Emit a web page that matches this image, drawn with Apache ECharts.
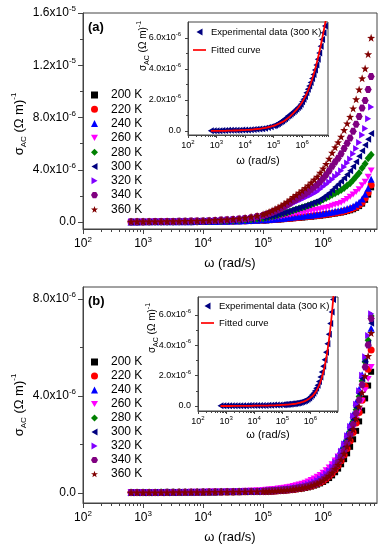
<!DOCTYPE html>
<html><head><meta charset="utf-8">
<script src="https://cdn.jsdelivr.net/npm/echarts@6/dist/echarts.min.js"></script>
<style>html,body{margin:0;padding:0;background:#fff}#c{width:382px;height:550px}</style>
</head><body><div id="c"></div><script>
// ---------------- data ----------------
const omega = [631,794,1000,1259,1585,1995,2512,3162,3981,5012,6310,7943,10000,12589,15849,19953,25119,31623,39811,50119,63096,79433,100000,
 112202,125893,141254,158489,177828,199526,223872,251189,281838,316228,
 354813,398107,446684,501187,562341,630957,707946,794328,891251,1000000,
 1122018,1258925,1412538,1584893,1778279,1995262,
 2238721,2511886,2818383,3162278,3548134,3981072,4466836,5011872,5623413,6309573];
const tempLabels = ['200 K','220 K','240 K','260 K','280 K','300 K','320 K','340 K','360 K'];
// panel (a), sigma_AC in 1e-6 (Ohm m)^-1
const sigA200 = [0.01,0.01,0.01,0.01,0.01,0.02,0.02,0.02,0.02,0.02,0.03,0.03,0.03,0.04,0.04,0.05,0.05,0.06,0.07,0.08,0.09,0.11,0.12,0.13,0.15,0.16,0.18,0.19,0.21,0.23,0.25,0.27,0.29,0.31,0.33,0.35,0.37,0.39,0.41,0.44,0.46,0.49,0.52,0.55,0.58,0.62,0.65,0.69,0.73,0.78,0.84,0.90,0.98,1.09,1.22,1.41,1.70,2.10,2.66];
const sigA220 = [0.01,0.01,0.01,0.02,0.02,0.02,0.02,0.02,0.02,0.03,0.03,0.03,0.04,0.04,0.05,0.05,0.06,0.07,0.08,0.09,0.10,0.12,0.14,0.15,0.17,0.18,0.20,0.22,0.24,0.26,0.28,0.30,0.32,0.34,0.36,0.38,0.40,0.43,0.45,0.48,0.50,0.53,0.56,0.59,0.62,0.66,0.70,0.74,0.78,0.83,0.89,0.96,1.05,1.16,1.30,1.50,1.82,2.24,2.83];
const sigA240 = [0.01,0.01,0.02,0.02,0.02,0.02,0.02,0.02,0.03,0.03,0.03,0.04,0.04,0.05,0.05,0.06,0.07,0.08,0.09,0.10,0.12,0.14,0.17,0.18,0.20,0.22,0.24,0.26,0.28,0.30,0.33,0.35,0.38,0.40,0.43,0.45,0.48,0.50,0.53,0.56,0.59,0.62,0.66,0.69,0.73,0.77,0.82,0.86,0.91,0.97,1.04,1.12,1.22,1.36,1.52,1.76,2.12,2.58,3.27];
const sigA260 = [0.01,0.02,0.02,0.02,0.02,0.02,0.03,0.03,0.03,0.03,0.04,0.04,0.05,0.05,0.06,0.07,0.08,0.09,0.11,0.13,0.15,0.19,0.23,0.25,0.28,0.32,0.36,0.39,0.43,0.48,0.52,0.57,0.61,0.65,0.70,0.74,0.78,0.82,0.86,0.90,0.94,0.99,1.05,1.09,1.16,1.25,1.32,1.39,1.47,1.62,1.77,1.93,2.11,2.30,2.52,2.81,3.09,3.47,3.95];
const sigA280 = [0.02,0.02,0.02,0.02,0.03,0.03,0.03,0.03,0.04,0.04,0.05,0.05,0.06,0.07,0.08,0.09,0.10,0.12,0.14,0.17,0.20,0.25,0.30,0.35,0.39,0.44,0.49,0.55,0.61,0.67,0.74,0.81,0.89,0.97,1.04,1.11,1.18,1.26,1.34,1.42,1.50,1.60,1.72,1.85,1.96,2.09,2.20,2.32,2.45,2.60,2.79,2.98,3.22,3.48,3.76,4.13,4.47,4.88,5.15];
const sigA300 = [0.02,0.02,0.02,0.02,0.03,0.03,0.04,0.04,0.04,0.05,0.05,0.06,0.06,0.07,0.08,0.10,0.11,0.13,0.15,0.18,0.22,0.27,0.33,0.37,0.42,0.47,0.53,0.59,0.65,0.72,0.79,0.87,0.96,1.02,1.10,1.17,1.25,1.33,1.42,1.51,1.60,1.73,1.89,2.05,2.23,2.46,2.69,2.90,3.13,3.38,3.64,3.93,4.25,4.62,5.03,5.46,5.90,6.33,6.77];
const sigA320 = [0.02,0.03,0.03,0.03,0.04,0.04,0.05,0.05,0.05,0.06,0.07,0.08,0.08,0.10,0.11,0.13,0.15,0.18,0.21,0.25,0.30,0.37,0.45,0.51,0.59,0.66,0.75,0.84,0.94,1.05,1.16,1.29,1.44,1.54,1.65,1.75,1.86,1.97,2.08,2.21,2.32,2.51,2.71,2.87,3.06,3.26,3.49,3.66,3.92,4.22,4.53,4.83,5.22,5.64,6.09,6.66,7.17,7.90,8.81];
const sigA340 = [0.03,0.03,0.03,0.03,0.04,0.04,0.05,0.05,0.06,0.07,0.08,0.09,0.09,0.11,0.13,0.15,0.17,0.20,0.24,0.28,0.34,0.42,0.51,0.58,0.66,0.75,0.85,0.95,1.06,1.19,1.32,1.46,1.63,1.75,1.90,2.03,2.17,2.33,2.51,2.69,2.86,3.10,3.36,3.63,3.93,4.28,4.60,4.89,5.22,5.63,6.04,6.44,6.96,7.49,8.07,8.73,9.31,10.15,11.14];
const sigA360 = [0.03,0.04,0.04,0.04,0.05,0.05,0.06,0.06,0.07,0.08,0.09,0.10,0.11,0.13,0.15,0.18,0.20,0.24,0.28,0.33,0.40,0.49,0.60,0.68,0.78,0.88,1.00,1.12,1.25,1.40,1.55,1.72,1.92,2.07,2.25,2.42,2.60,2.80,3.02,3.25,3.47,3.77,4.10,4.45,4.85,5.30,5.72,6.10,6.53,7.04,7.55,8.05,8.70,9.40,10.15,11.00,11.75,12.85,14.10];
// panel (b)
const sigB200 = [0.01,0.01,0.01,0.01,0.01,0.01,0.01,0.01,0.01,0.02,0.02,0.02,0.02,0.02,0.02,0.03,0.03,0.03,0.03,0.04,0.04,0.05,0.05,0.06,0.06,0.07,0.08,0.08,0.09,0.10,0.11,0.12,0.13,0.15,0.16,0.18,0.20,0.23,0.26,0.30,0.34,0.39,0.45,0.52,0.61,0.72,0.85,1.00,1.18,1.39,1.63,1.90,2.21,2.56,2.95,3.40,3.90,4.43,5.00];
const sigB220 = [0.01,0.01,0.01,0.01,0.01,0.01,0.01,0.01,0.02,0.02,0.02,0.02,0.02,0.02,0.03,0.03,0.03,0.03,0.04,0.04,0.05,0.05,0.06,0.06,0.07,0.07,0.08,0.09,0.10,0.11,0.12,0.13,0.14,0.16,0.18,0.20,0.22,0.25,0.28,0.32,0.37,0.43,0.49,0.58,0.68,0.80,0.95,1.12,1.32,1.56,1.83,2.14,2.49,2.88,3.32,3.82,4.40,5.10,5.90];
const sigB240 = [0.01,0.01,0.02,0.02,0.02,0.02,0.02,0.02,0.03,0.03,0.03,0.03,0.04,0.04,0.04,0.05,0.05,0.06,0.06,0.07,0.07,0.08,0.09,0.10,0.11,0.12,0.13,0.14,0.15,0.16,0.18,0.20,0.22,0.24,0.27,0.30,0.34,0.38,0.43,0.49,0.56,0.64,0.73,0.85,0.99,1.15,1.34,1.56,1.81,2.10,2.44,2.82,3.25,3.74,4.28,4.88,5.55,6.20,6.80];
const sigB260 = [0.02,0.02,0.02,0.02,0.02,0.03,0.03,0.03,0.03,0.03,0.04,0.04,0.04,0.05,0.05,0.06,0.06,0.07,0.08,0.09,0.10,0.11,0.12,0.13,0.14,0.15,0.16,0.18,0.19,0.21,0.23,0.25,0.28,0.31,0.34,0.38,0.42,0.47,0.53,0.59,0.66,0.74,0.83,0.93,1.05,1.18,1.33,1.50,1.69,1.90,2.13,2.40,2.70,3.03,3.40,3.80,4.24,4.70,5.20];
const sigB280 = [0.01,0.01,0.01,0.01,0.01,0.02,0.02,0.02,0.02,0.02,0.02,0.03,0.03,0.03,0.03,0.04,0.04,0.04,0.05,0.05,0.06,0.06,0.07,0.08,0.08,0.09,0.10,0.11,0.12,0.13,0.14,0.15,0.17,0.19,0.21,0.23,0.26,0.29,0.33,0.38,0.43,0.50,0.58,0.68,0.80,0.95,1.12,1.32,1.56,1.84,2.16,2.53,2.95,3.43,3.98,4.62,5.40,6.30,7.30];
const sigB300 = [0.01,0.01,0.01,0.01,0.02,0.02,0.02,0.02,0.02,0.02,0.03,0.03,0.03,0.03,0.04,0.04,0.04,0.05,0.05,0.06,0.06,0.07,0.08,0.08,0.09,0.10,0.11,0.12,0.13,0.14,0.15,0.16,0.18,0.20,0.22,0.25,0.28,0.31,0.35,0.40,0.46,0.53,0.62,0.72,0.84,0.99,1.16,1.37,1.61,1.90,2.23,2.61,3.04,3.53,4.10,4.72,5.42,6.18,7.00];
const sigB320 = [0.01,0.01,0.01,0.02,0.02,0.02,0.02,0.02,0.02,0.03,0.03,0.03,0.03,0.04,0.04,0.04,0.05,0.05,0.06,0.06,0.07,0.07,0.08,0.09,0.10,0.11,0.12,0.13,0.14,0.15,0.16,0.18,0.20,0.22,0.25,0.28,0.31,0.35,0.40,0.45,0.51,0.59,0.68,0.79,0.92,1.08,1.26,1.47,1.72,2.02,2.36,2.74,3.17,3.66,4.22,4.86,5.62,6.50,7.40];
const sigB340 = [0.01,0.01,0.01,0.01,0.01,0.01,0.02,0.02,0.02,0.02,0.02,0.02,0.03,0.03,0.03,0.03,0.04,0.04,0.04,0.05,0.05,0.06,0.06,0.07,0.08,0.08,0.09,0.10,0.11,0.12,0.13,0.14,0.16,0.18,0.20,0.22,0.24,0.27,0.31,0.35,0.40,0.47,0.55,0.64,0.75,0.89,1.05,1.24,1.47,1.74,2.05,2.41,2.82,3.29,3.83,4.46,5.20,6.10,7.20];
const sigB360 = [0.01,0.01,0.01,0.01,0.01,0.01,0.01,0.02,0.02,0.02,0.02,0.02,0.02,0.03,0.03,0.03,0.03,0.04,0.04,0.04,0.05,0.05,0.06,0.06,0.07,0.08,0.08,0.09,0.10,0.11,0.12,0.13,0.15,0.17,0.18,0.20,0.23,0.25,0.29,0.33,0.38,0.44,0.51,0.60,0.70,0.83,0.98,1.16,1.37,1.62,1.91,2.24,2.62,3.06,3.56,4.14,4.82,5.65,6.60];
// fitted curves (insets)
const fitOmega = [631,794,1000,1259,1585,1995,2512,3162,3981,5012,6310,7943,10000,12589,15849,19953,25119,31623,39811,50119,63096,79433,100000,125893,158489,199526,251189,316228,398107,501187,630957,794328,1000000,1258925,1584893,1995262,2511886,3162278,3981072,5011872,6309573,7079458];
const fitA = [0.00,0.00,0.01,0.01,0.01,0.01,0.02,0.02,0.03,0.03,0.04,0.05,0.06,0.07,0.08,0.10,0.12,0.14,0.17,0.20,0.24,0.28,0.33,0.40,0.48,0.57,0.68,0.82,0.98,1.16,1.36,1.59,1.85,2.18,2.58,3.05,3.62,4.28,5.05,5.92,6.85,7.35];
const fitB = [0.00,0.00,0.00,0.00,0.00,0.01,0.01,0.01,0.01,0.01,0.01,0.01,0.02,0.02,0.02,0.02,0.03,0.03,0.04,0.04,0.05,0.06,0.07,0.08,0.09,0.11,0.13,0.16,0.20,0.25,0.32,0.42,0.55,0.72,0.97,1.33,1.85,2.60,3.60,5.00,6.90,8.20];
// ticks
const xTicks = [100,1000,10000,100000,1000000];
const xMinor = [200,300,400,500,600,700,800,900,2000,3000,4000,5000,6000,7000,8000,9000,20000,30000,40000,50000,60000,70000,80000,90000,200000,300000,400000,500000,600000,700000,800000,900000,2000000,3000000,4000000,5000000,6000000,7000000,8000000,9000000];
const yTicksA = [0,4e-6,8e-6,1.2e-5,1.6e-5], yMinorA = [2e-6,6e-6,1e-5,1.4e-5];
const yTicksB = [0,4e-6,8e-6], yMinorB = [2e-6,6e-6];
const yTicksIn = [0,2e-6,4e-6,6e-6], yMinorIn = [1e-6,3e-6,5e-6];

// ---------------- chart ----------------
const FONT = '"Liberation Sans", Arial, sans-serif';
const AX = '#444';
const chart = echarts.init(document.getElementById('c'));

function xLab(v){ const e = Math.round(Math.log10(v)); return '{b|10}{s|' + e + '}'; }
function yLab(v){
  if (Math.abs(v) < 1e-12) return '{b|0.0}';
  const e = Math.floor(Math.log10(Math.abs(v)) + 1e-9);
  const m = v / Math.pow(10, e);
  return '{b|' + m.toFixed(1) + 'x10}{s|' + e + '}';
}
function rich(fs, fsS){
  return { b:{fontSize:fs, lineHeight:fs+4, fontFamily:FONT, color:'#000'},
           s:{fontSize:fsS, lineHeight:fsS-1, verticalAlign:'top', fontFamily:FONT, color:'#000'} };
}
function xAxes(gi, maxV, fs, fsS, margin, tl, ml, nfs, ngap){
  return [{
    gridIndex:gi, type:'log', logBase:10, min:100, max:maxV, position:'bottom',
    axisLine:{show:true, onZero:false, lineStyle:{color:AX, width:1}},
    axisTick:{show:true, length:tl, customValues:xTicks, lineStyle:{color:AX}},
    axisLabel:{show:true, customValues:xTicks, margin:margin, formatter:xLab, rich:rich(fs,fsS)},
    splitLine:{show:false},
    name:'ω (rad/s)', nameLocation:'middle', nameGap:ngap,
    nameTextStyle:{fontSize:nfs, color:'#000', fontFamily:FONT}
  },{
    gridIndex:gi, type:'log', logBase:10, min:100, max:maxV, position:'bottom',
    axisLine:{show:false, onZero:false}, axisTick:{show:true, length:ml, customValues:xMinor, lineStyle:{color:AX}},
    axisLabel:{show:false}, splitLine:{show:false}
  }];
}
function yAxes(gi, mn, mx, ticks, minor, fs, fsS, margin, tl, ml){
  return [{
    gridIndex:gi, type:'value', min:mn, max:mx, position:'left',
    axisLine:{show:true, onZero:false, lineStyle:{color:AX, width:1}},
    axisTick:{show:true, length:tl, customValues:ticks, lineStyle:{color:AX}},
    axisLabel:{show:true, customValues:ticks, margin:margin, formatter:yLab, rich:rich(fs,fsS)},
    splitLine:{show:false}
  },{
    gridIndex:gi, type:'value', min:mn, max:mx, position:'left',
    axisLine:{show:false, onZero:false}, axisTick:{show:true, length:ml, customValues:minor, lineStyle:{color:AX}},
    axisLabel:{show:false}, splitLine:{show:false}
  }];
}

const symStyles = [
  {color:'#000000', symbol:'rect', size:6},
  {color:'#FF0000', symbol:'circle', size:7},
  {color:'#0000FF', symbol:'triangle', size:7},
  {color:'#FF00FF', symbol:'path://M0,0L10,0L5,8.66Z', size:[7,6]},
  {color:'#008000', symbol:'diamond', size:[7,8]},
  {color:'#000080', symbol:'path://M0,5L8.66,0L8.66,10Z', size:[6,7]},
  {color:'#8000FF', symbol:'path://M0,0L8.66,5L0,10Z', size:[6,7]},
  {color:'#800080', symbol:'path://M2.5,0L7.5,0L10,4.33L7.5,8.66L2.5,8.66L0,4.33Z', size:[7,7]},
  {color:'#800000', symbol:'path://M5,0L6.18,3.38L9.76,3.45L6.9,5.62L7.94,9.05L5,7L2.06,9.05L3.1,5.62L0.24,3.45L3.82,3.38Z', size:8}
];
const setA = [sigA200,sigA220,sigA240,sigA260,sigA280,sigA300,sigA320,sigA340,sigA360];
const setB = [sigB200,sigB220,sigB240,sigB260,sigB280,sigB300,sigB320,sigB340,sigB360];
const toPts = (xs, ys) => xs.map((w,i) => [w, ys[i]*1e-6]);

const series = [];
function addPanel(set, xi, yi){
  set.forEach((vals, k) => {
    const st = symStyles[k];
    series.push({type:'scatter', name:tempLabels[k], xAxisIndex:xi, yAxisIndex:yi,
      symbol:st.symbol, symbolSize:st.size, itemStyle:{color:st.color, opacity:1},
      data: toPts(omega, vals), z:2+k*0.01});
  });
}
addPanel(setA, 0, 0);
addPanel(setB, 2, 2);
const expStyle = {symbol:'path://M0,5L8.66,0L8.66,10Z', symbolSize:[6,7], itemStyle:{color:'#000080', opacity:1}};
series.push(Object.assign({type:'scatter', name:'Experimental data (300 K)', xAxisIndex:4, yAxisIndex:4, data:toPts(omega, sigA300), z:5}, expStyle));
series.push({type:'line', name:'Fitted curve', xAxisIndex:4, yAxisIndex:4, data:toPts(fitOmega, fitA), showSymbol:false, symbol:'none', smooth:true, lineStyle:{color:'#FF0000', width:1.8}, itemStyle:{color:'#FF0000'}, z:6});
series.push(Object.assign({type:'scatter', name:'Experimental data (300 K)', xAxisIndex:6, yAxisIndex:6, data:toPts(omega, sigB300), z:5}, expStyle));
series.push({type:'line', name:'Fitted curve', xAxisIndex:6, yAxisIndex:6, data:toPts(fitOmega, fitB), showSymbol:false, symbol:'none', smooth:true, lineStyle:{color:'#FF0000', width:1.8}, itemStyle:{color:'#FF0000'}, z:6});

const legendMain = (top, gap) => ({
  orient:'vertical', left:91, top:top, padding:0, itemWidth:7, itemHeight:7, itemGap:gap,
  selectedMode:false, data:tempLabels,
  textStyle:{fontSize:12, lineHeight:14, fontFamily:FONT, color:'#000', padding:[0,0,0,8]}
});
const legendInset = (left, top, gap) => ({
  orient:'vertical', left:left, top:top, padding:0, itemWidth:13, itemHeight:7, itemGap:gap,
  selectedMode:false,
  data:[{name:'Experimental data (300 K)'}, {name:'Fitted curve', icon:'path://M0,0L20,0L20,2.6L0,2.6Z'}],
  textStyle:{fontSize:9.5, lineHeight:12, fontFamily:FONT, color:'#000'}
});

const yName = (x, y, fs) => ({
  type:'text', x:x, y:y, rotation:Math.PI/2, z:10,
  style:{text:'σ{sub|AC} (Ω m){sup|-1}', fill:'#000', font: fs + 'px ' + FONT, align:'center', verticalAlign:'middle',
    rich:{ sub:{fontSize:Math.round(fs*0.65), lineHeight:Math.round(fs*0.65)+1, verticalAlign:'bottom', fontFamily:FONT, fill:'#000'},
           sup:{fontSize:Math.round(fs*0.65), lineHeight:Math.round(fs*0.65)-1, verticalAlign:'top', fontFamily:FONT, fill:'#000'} },
    lineHeight: fs+5}
});

const option = {
  animation:false,
  backgroundColor:'#fff',
  textStyle:{fontFamily:FONT},
  grid:[
    {left:83, top:13, width:294, height:216, show:true, borderColor:AX, borderWidth:1},
    {left:83, top:287, width:294, height:216, show:true, borderColor:AX, borderWidth:1},
    {left:188, top:22, width:140, height:113, show:true, borderColor:AX, borderWidth:1, backgroundColor:'#fff'},
    {left:198, top:297, width:140, height:114, show:true, borderColor:AX, borderWidth:1, backgroundColor:'#fff'}
  ],
  xAxis:[].concat(
    xAxes(0, 7.9e6, 12, 8, 7, 5, 3, 13, 28),
    xAxes(1, 7.9e6, 12, 8, 7, 5, 3, 13, 28),
    xAxes(2, 8.1e6, 9, 6, 4, 3, 2, 11, 20),
    xAxes(3, 9.5e6, 9, 6, 4, 3, 2, 11, 18)
  ),
  yAxis:[].concat(
    yAxes(0, -0.53e-6, 16e-6, yTicksA, yMinorA, 12, 8, 7, 5, 3),
    yAxes(1, -0.42e-6, 8.50e-6, yTicksB, yMinorB, 12, 8, 7, 5, 3),
    yAxes(2, -0.26e-6, 7.03e-6, yTicksIn, yMinorIn, 9, 6, 7, 3, 2),
    yAxes(3, -0.33e-6, 7.17e-6, yTicksIn, yMinorIn, 9, 6, 7, 3, 2)
  ),
  legend:[ legendMain(88, 0.3), legendMain(355, 0), legendInset(193, 26, 6), legendInset(201, 300, 5) ],
  series: series,
  graphic:[
    yName(19, 124, 13), yName(19, 405, 13), yName(143, 46, 10), yName(152, 328, 10),
    {type:'text', x:88, y:27, z:10, style:{text:'(a)', fill:'#000', font:'bold 13px ' + FONT, verticalAlign:'middle'}},
    {type:'text', x:88, y:301, z:10, style:{text:'(b)', fill:'#000', font:'bold 13px ' + FONT, verticalAlign:'middle'}}
  ]
};
chart.setOption(option);
</script></body></html>
